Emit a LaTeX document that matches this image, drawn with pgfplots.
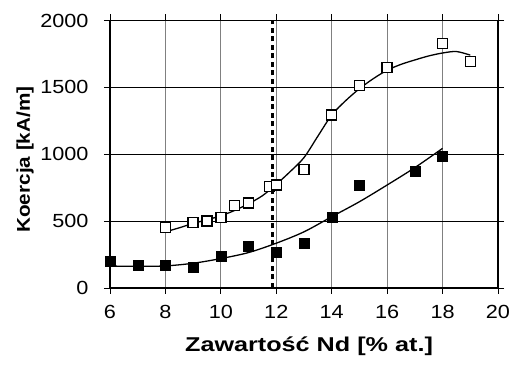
\documentclass[border=0pt]{standalone}
\usepackage{fontspec}
\setmainfont{Liberation Sans}[FakeStretch=1.12]
\newfontfamily\xlabfont{Liberation Sans}[FakeStretch=1.26]
\newfontfamily\ticfont{Liberation Sans}[FakeStretch=1.14]
\usepackage{pgfplots}
\pgfplotsset{compat=1.18}
\begin{document}
\begin{tikzpicture}[x=1pt,y=1pt]
\useasboundingbox (-110,-83) rectangle (402,288);
\begin{axis}[
  at={(0,0)}, anchor=south west,
  scale only axis, width=388pt, height=267.5pt,
  xmin=6, xmax=20, ymin=0, ymax=2000,
  xtick={6,8,...,20}, ytick={0,500,...,2000},
  tick align=outside, major tick length=6pt,
  tick style={black, line width=0.8pt},
  axis line style={black, line width=1.2pt},
  xmajorgrids, ymajorgrids,
  x grid style={gray, line width=0.8pt},
  y grid style={black, line width=0.6pt},
  /pgf/number format/assume math mode=true,
  /pgf/number format/1000 sep={},
  xticklabel={\ticfont\fontsize{19}{22}\selectfont\pgfmathprintnumber{\tick}},
  yticklabel={\ticfont\fontsize{19}{22}\selectfont\pgfmathprintnumber{\tick}},
  xticklabel style={yshift=-8pt},
  yticklabel style={xshift=-12pt},
  xlabel={\xlabfont\bfseries Zawartość Nd [\% at.]},
  ylabel={\bfseries Koercja [kA/m]},
  every axis x label/.style={at={(axis description cs:0.513,-0.236)}, anchor=base, font=\fontsize{20}{24}\selectfont},
  every axis y label/.style={at={(axis description cs:-0.219,0.48)}, anchor=center, rotate=90, font=\fontsize{18.5}{22}\selectfont},
  clip=false,
]
% dotted vertical line
\addplot[black, line width=3pt, dash pattern=on 5pt off 3.5pt] coordinates {(11.85,0) (11.85,2000)};
% trend lines
\addplot[black, line width=1.3pt, smooth, tension=0.5] coordinates {
(8,420) (8.5,450) (9,483) (9.5,510) (10,540) (10.5,580) (11,630) (11.5,690) (12,775) (12.5,870) (13,975) (13.5,1135) (14,1293) (14.5,1400) (15,1490) (15.5,1565) (16,1628) (16.5,1672) (17,1705) (17.5,1735) (18,1757) (18.5,1768) (19,1741)};
\addplot[black, line width=1.3pt, smooth, tension=0.5] coordinates {
(6,164) (7,162) (8,165) (9,185) (10,220) (11,265) (12,335) (13,420) (14,533) (15,645) (16,770) (17,900) (18,1044)};
% data
\addplot[only marks, mark=square*, mark size=5pt, mark options={fill=white, draw=black, line width=1.3pt}] coordinates {
(8,454) (9,488) (9.5,500) (10,528) (10.5,618) (11,635) (11.75,757) (12,770) (13,887) (14,1293) (15,1515) (16,1650) (18,1829) (19,1694)};
\addplot[only marks, mark=square*, mark size=5pt, mark options={fill=black, draw=black}] coordinates {
(6,200) (7,167) (8,167) (9,159) (10,234) (11,309) (12,267) (13,334) (14,533) (15,770) (17,875) (18,987)};
\end{axis}
\end{tikzpicture}
\end{document}
